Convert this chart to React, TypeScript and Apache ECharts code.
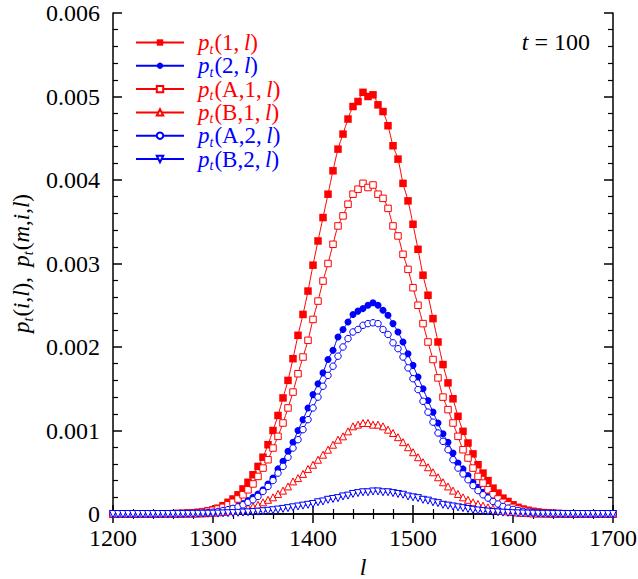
import React, { useEffect, useRef } from 'react';
import * as echarts from 'echarts';

// sampling positions l
const L = [
  1200, 1205, 1210, 1215, 1220, 1225, 1230, 1235, 1240, 1245,
  1250, 1255, 1260, 1265, 1270, 1275, 1280, 1285, 1290, 1295,
  1300, 1305, 1310, 1315, 1320, 1325, 1330, 1335, 1340, 1345,
  1350, 1355, 1360, 1365, 1370, 1375, 1380, 1385, 1390, 1395,
  1400, 1405, 1410, 1415, 1420, 1425, 1430, 1435, 1440, 1445,
  1450, 1455, 1460, 1465, 1470, 1475, 1480, 1485, 1490, 1495,
  1500, 1505, 1510, 1515, 1520, 1525, 1530, 1535, 1540, 1545,
  1550, 1555, 1560, 1565, 1570, 1575, 1580, 1585, 1590, 1595,
  1600, 1605, 1610, 1615, 1620, 1625, 1630, 1635, 1640, 1645,
  1650, 1655, 1660, 1665, 1670, 1675, 1680, 1685, 1690, 1695,
  1700,
];

// p_t(1,l)
const P1 = [
  0, 0, 0, 0, 0, 0.000001, 0.000001, 0.000001, 0.000001, 0.000002,
  0.000002, 0.000003, 0.000004, 0.000006, 0.000008, 0.000011, 0.000015, 0.00002, 0.000028, 0.000038,
  0.00005, 0.00007, 0.0001, 0.00014, 0.00018, 0.00023, 0.0003, 0.00038, 0.00047, 0.00057,
  0.00068, 0.00083, 0.001, 0.00118, 0.00139, 0.0016, 0.00186, 0.00214, 0.00239, 0.00267,
  0.00298, 0.00327, 0.00355, 0.00383, 0.00411, 0.00437, 0.00455, 0.00473, 0.00488, 0.00494,
  0.00505, 0.005, 0.00502, 0.0049, 0.00482, 0.00465, 0.00441, 0.00425, 0.00396, 0.00375,
  0.00347, 0.00317, 0.00286, 0.00262, 0.00234, 0.00206, 0.00179, 0.00157, 0.00138, 0.00117,
  0.00099, 0.00085, 0.00072, 0.00059, 0.00049, 0.0004, 0.00031, 0.00025, 0.00019, 0.00015,
  0.00011, 0.00008, 0.00006, 0.000045, 0.000033, 0.000024, 0.000017, 0.000012, 0.000008, 0.000006,
  0.000004, 0.000003, 0.000002, 0.000001, 0.000001, 0, 0, 0, 0, 0,
  0,
];

// p_t(2,l)
const P2 = [
  0, 0, 0, 0, 0, 0, 0, 0, 0, 0.000001,
  0.000001, 0.000002, 0.000002, 0.000003, 0.000004, 0.000006, 0.000008, 0.000011, 0.000015, 0.00002,
  0.000027, 0.000036, 0.000048, 0.000063, 0.00008, 0.0001, 0.000125, 0.00016, 0.0002, 0.00024,
  0.00029, 0.00036, 0.00043, 0.00054, 0.00063, 0.00075, 0.00086, 0.001, 0.00113, 0.00127,
  0.00143, 0.00156, 0.00169, 0.00185, 0.00196, 0.00212, 0.00221, 0.0023, 0.00239, 0.00243,
  0.00246, 0.0025, 0.00253, 0.0025, 0.00244, 0.00238, 0.00228, 0.00218, 0.00206, 0.00192,
  0.00178, 0.00164, 0.0015, 0.00136, 0.00122, 0.00109, 0.00096, 0.00086, 0.00073, 0.00061,
  0.00054, 0.00046, 0.00038, 0.00032, 0.00026, 0.00021, 0.00017, 0.00013, 0.0001, 0.00008,
  0.00006, 0.000045, 0.000034, 0.000025, 0.000018, 0.000013, 0.000009, 0.000006, 0.000004, 0.000003,
  0.000002, 0.000001, 0.000001, 0, 0, 0, 0, 0, 0, 0,
  0,
];

// p_t(A,1,l)
const PA1 = [
  0, 0, 0, 0, 0, 0, 0, 0, 0, 0.000001,
  0.000001, 0.000002, 0.000003, 0.000004, 0.000006, 0.000009, 0.000012, 0.000017, 0.000024, 0.000033,
  0.000045, 0.00006, 0.00008, 0.00011, 0.00014, 0.00018, 0.00023, 0.00029, 0.00036, 0.00045,
  0.00055, 0.00065, 0.00079, 0.00093, 0.00109, 0.00127, 0.00146, 0.00168, 0.00188, 0.00208,
  0.00233, 0.00255, 0.00279, 0.003, 0.00323, 0.00345, 0.00357, 0.00371, 0.00383, 0.00389,
  0.00396, 0.00391, 0.00394, 0.00383, 0.00378, 0.00366, 0.00345, 0.00333, 0.00311, 0.00293,
  0.00271, 0.0025, 0.00228, 0.00206, 0.00185, 0.00163, 0.0014, 0.00125, 0.00109, 0.00093,
  0.00077, 0.00067, 0.00055, 0.00045, 0.00037, 0.00029, 0.00023, 0.00018, 0.00014, 0.00011,
  0.00008, 0.00006, 0.000045, 0.000034, 0.000025, 0.000018, 0.000013, 0.000009, 0.000006, 0.000004,
  0.000003, 0.000002, 0.000001, 0.000001, 0, 0, 0, 0, 0, 0,
  0,
];

// p_t(B,1,l)
const PB1 = [
  0, 0, 0, 0, 0, 0, 0, 0, 0, 0,
  0, 0.000001, 0.000001, 0.000002, 0.000002, 0.000003, 0.000004, 0.000006, 0.000008, 0.000011,
  0.000015, 0.00002, 0.000025, 0.000032, 0.00004, 0.00005, 0.00006, 0.000075, 0.00009, 0.00011,
  0.00014, 0.00017, 0.0002, 0.00024, 0.00028, 0.00033, 0.00039, 0.00043, 0.00048, 0.00054,
  0.00059, 0.00065, 0.00071, 0.00077, 0.00083, 0.00089, 0.00093, 0.00099, 0.00105, 0.00107,
  0.00109, 0.00109, 0.00107, 0.00107, 0.00105, 0.00101, 0.00097, 0.00092, 0.00086, 0.0008,
  0.00074, 0.00068, 0.00062, 0.00056, 0.0005, 0.00044, 0.00038, 0.00033, 0.00028, 0.00024,
  0.0002, 0.00017, 0.00014, 0.00012, 0.0001, 0.00008, 0.000065, 0.00005, 0.00004, 0.00003,
  0.000023, 0.000017, 0.000013, 0.00001, 0.000007, 0.000005, 0.000004, 0.000003, 0.000002, 0.000001,
  0.000001, 0, 0, 0, 0, 0, 0, 0, 0, 0,
  0,
];

// p_t(A,2,l)
const PA2 = [
  0, 0, 0, 0, 0, 0, 0, 0, 0, 0,
  0.000001, 0.000001, 0.000002, 0.000002, 0.000003, 0.000005, 0.000006, 0.000009, 0.000012, 0.000016,
  0.000022, 0.00003, 0.00004, 0.000052, 0.000067, 0.000085, 0.00011, 0.00014, 0.00017, 0.00021,
  0.00027, 0.00033, 0.0004, 0.00049, 0.00057, 0.00068, 0.00079, 0.00089, 0.00101, 0.00113,
  0.00127, 0.0014, 0.00153, 0.00166, 0.00177, 0.00189, 0.002, 0.0021, 0.00218, 0.00221,
  0.00226, 0.00228, 0.00229, 0.00228, 0.00221, 0.00215, 0.00205, 0.00198, 0.00188, 0.00175,
  0.00162, 0.00149, 0.00135, 0.00122, 0.0011, 0.00097, 0.00087, 0.00077, 0.00065, 0.00055,
  0.00048, 0.00041, 0.00034, 0.00028, 0.00023, 0.00019, 0.00015, 0.00012, 0.00009, 0.00007,
  0.000055, 0.000042, 0.000031, 0.000023, 0.000017, 0.000012, 0.000008, 0.000006, 0.000004, 0.000003,
  0.000002, 0.000001, 0.000001, 0, 0, 0, 0, 0, 0, 0,
  0,
];

// p_t(B,2,l)
const PB2 = [
  0, 0, 0, 0, 0, 0, 0, 0, 0, 0,
  0, 0, 0, 0.000001, 0.000001, 0.000001, 0.000002, 0.000002, 0.000003, 0.000003,
  0.000004, 0.000005, 0.000007, 0.000009, 0.000011, 0.000014, 0.000017, 0.00002, 0.000024, 0.000028,
  0.000033, 0.000038, 0.000045, 0.000053, 0.000061, 0.00007, 0.00008, 0.00009, 0.0001, 0.00011,
  0.00012, 0.00014, 0.00015, 0.00017, 0.00018, 0.00019, 0.00021, 0.00022, 0.00024, 0.00025,
  0.00026, 0.00026, 0.00027, 0.00027, 0.00026, 0.00026, 0.00025, 0.00024, 0.00023, 0.00021,
  0.0002, 0.00019, 0.00017, 0.00016, 0.00014, 0.00013, 0.00011, 0.0001, 0.00009, 0.00008,
  0.00007, 0.00006, 0.00005, 0.000042, 0.000035, 0.000029, 0.000024, 0.00002, 0.000016, 0.000013,
  0.00001, 0.000008, 0.000006, 0.000005, 0.000004, 0.000003, 0.000002, 0.000002, 0.000001, 0.000001,
  0, 0, 0, 0, 0, 0, 0, 0, 0, 0,
  0,
];

const X_TICKS = [1200, 1300, 1400, 1500, 1600, 1700];
const Y_TICK_LABELS = ['0', '0.001', '0.002', '0.003', '0.004', '0.005', '0.006'];

const SERIES_NAMES = ['p1', 'p2', 'pA1', 'pB1', 'pA2', 'pB2'];
const SERIES_ARGS = ['1,', '2,', 'A,1,', 'B,1,', 'A,2,', 'B,2,'];
const SERIES_VALUES = [P1, P2, PA1, PB1, PA2, PB2];

const RED = '#ff0000';
const BLUE = '#0000ff';
const SERIES_COLORS = [RED, BLUE, RED, RED, BLUE, BLUE];
const SERIES_SYMBOLS = ['rect', 'circle', 'rect', 'triangle', 'circle', 'triangle'];
const SERIES_FILLED = [true, true, false, false, false, false];
const SERIES_ROTATE = [0, 0, 0, 0, 0, 180];
const SERIES_SIZE = [7.5, 7, 6.5, 7, 6.5, 7];

const FONT = "'Liberation Serif', 'Times New Roman', serif";
const FS = 24;
const LFS = 23;
const SUB = 14;
const LH = 23;

function richSet(prefix: string, color: string, lead: number) {
  const main = { fontFamily: FONT, fontSize: LFS, color, lineHeight: LH, verticalAlign: 'middle' };
  return {
    [prefix + 'p']: { ...main, fontStyle: 'italic', padding: [0, 0, 0, lead] },
    [prefix + 't']: {
      fontFamily: FONT, fontSize: SUB, fontStyle: 'italic', color,
      lineHeight: LH, height: 10, verticalAlign: 'bottom', padding: [0, 1, 0, 0],
    },
    [prefix + 'q']: { ...main, fontStyle: 'italic' },
    [prefix + 'n']: { ...main },
    [prefix + 'l']: { ...main, fontStyle: 'italic' },
  };
}

export default function App() {
  const ref = useRef<HTMLDivElement>(null);

  useEffect(() => {
    if (!ref.current) return;
    const chart = echarts.init(ref.current, null, { renderer: 'svg' });

    const axisCommon = {
      type: 'value',
      axisLine: { show: true, lineStyle: { color: '#000', width: 1.5 } },
      axisTick: { show: true, inside: true, length: 9, lineStyle: { color: '#000', width: 1.5 } },
      minorTick: { show: true, splitNumber: 5, length: 5, lineStyle: { color: '#000', width: 1.2 } },
      splitLine: { show: false },
      minorSplitLine: { show: false },
    };

    const series = SERIES_NAMES.map((name, i) => {
      const color = SERIES_COLORS[i];
      return {
        name,
        type: 'line',
        xAxisIndex: 0,
        yAxisIndex: 0,
        data: L.map((x, k) => [x, SERIES_VALUES[i][k]]),
        symbol: SERIES_SYMBOLS[i],
        symbolSize: SERIES_SIZE[i],
        symbolRotate: SERIES_ROTATE[i],
        showAllSymbol: true,
        smooth: 0.3,
        lineStyle: { color, width: 1 },
        itemStyle: SERIES_FILLED[i]
          ? { color, borderWidth: 0 }
          : { color: '#ffffff', borderColor: color, borderWidth: 1 },
        emphasis: { disabled: true },
        z: 2 + i,
      };
    });

    const legendRich = { ...richSet('r', RED, 9), ...richSet('b', BLUE, 9) };
    const yRich = richSet('k', '#000', 0);

    chart.setOption({
      animation: false,
      textStyle: { fontFamily: FONT },
      grid: { left: 113, right: 25, top: 13, bottom: 65, containLabel: false, outerBoundsMode: 'none' },
      xAxis: [
        {
          ...axisCommon,
          position: 'bottom',
          min: X_TICKS[0],
          max: X_TICKS[X_TICKS.length - 1],
          interval: 100,
          name: 'l',
          nameLocation: 'middle',
          nameGap: 35,
          nameTextStyle: { fontFamily: FONT, fontSize: 24, fontStyle: 'italic', color: '#000', lineHeight: 24 },
          axisLabel: {
            show: true,
            fontFamily: FONT,
            fontSize: FS,
            lineHeight: 24,
            color: '#000',
            margin: 12,
            formatter: (v: number) => String(X_TICKS.find((t) => Math.abs(t - v) < 1e-6) ?? ''),
          },
        },
        {
          ...axisCommon,
          position: 'top',
          min: X_TICKS[0],
          max: X_TICKS[X_TICKS.length - 1],
          interval: 100,
          axisLabel: { show: false },
        },
      ],
      yAxis: [
        {
          ...axisCommon,
          position: 'left',
          min: 0,
          max: 0.006,
          interval: 0.001,
          name: '{kq|p}{kt|t}{kn|(}{kl|i}{kn|,}{kl|l}{kn|), \u2009}{kq|p}{kt|t}{kn|(}{kl|m}{kn|,}{kl|i}{kn|,}{kl|l}{kn|)}',
          nameLocation: 'middle',
          nameRotate: 90,
          nameGap: 78,
          nameTextStyle: { rich: yRich, fontFamily: FONT, fontSize: LFS, color: '#000', lineHeight: LH },
          axisLabel: {
            show: true,
            fontFamily: FONT,
            fontSize: FS,
            lineHeight: 20,
            color: '#000',
            margin: 13,
            formatter: (v: number) => Y_TICK_LABELS[Math.round(v / 0.001)] ?? '',
          },
        },
        {
          ...axisCommon,
          position: 'right',
          min: 0,
          max: 0.006,
          interval: 0.001,
          axisLabel: { show: false },
        },
      ],
      legend: {
        show: true,
        orient: 'vertical',
        left: 135,
        top: 31,
        padding: 0,
        itemGap: -1.7,
        itemWidth: 48,
        itemHeight: 8,
        selectedMode: false,
        data: SERIES_NAMES,
        formatter: (name: string) => {
          const i = SERIES_NAMES.indexOf(name);
          const c = SERIES_COLORS[i] === RED ? 'r' : 'b';
          return `{${c}p|p}{${c}t|t}{${c}n|(${SERIES_ARGS[i]}\u2009}{${c}l|l}{${c}n|)}`;
        },
        textStyle: { rich: legendRich, fontFamily: FONT, fontSize: LFS, lineHeight: LH },
      },
      graphic: [
        {
          type: 'text',
          right: 48,
          top: 30,
          style: {
            text: '{i|t}{n| = 100}',
            rich: {
              i: { fontFamily: FONT, fontSize: FS, fontStyle: 'italic', fill: '#000', lineHeight: 24 },
              n: { fontFamily: FONT, fontSize: FS, fill: '#000', lineHeight: 24 },
            },
            fontFamily: FONT,
            fontSize: FS,
            fill: '#000',
          },
        },
      ],
      series,
    });

    return () => chart.dispose();
  }, []);

  return (
    <div
      ref={ref}
      style={{ position: 'fixed', left: 0, top: 0, width: 638, height: 579, background: '#fff' }}
    />
  );
}
